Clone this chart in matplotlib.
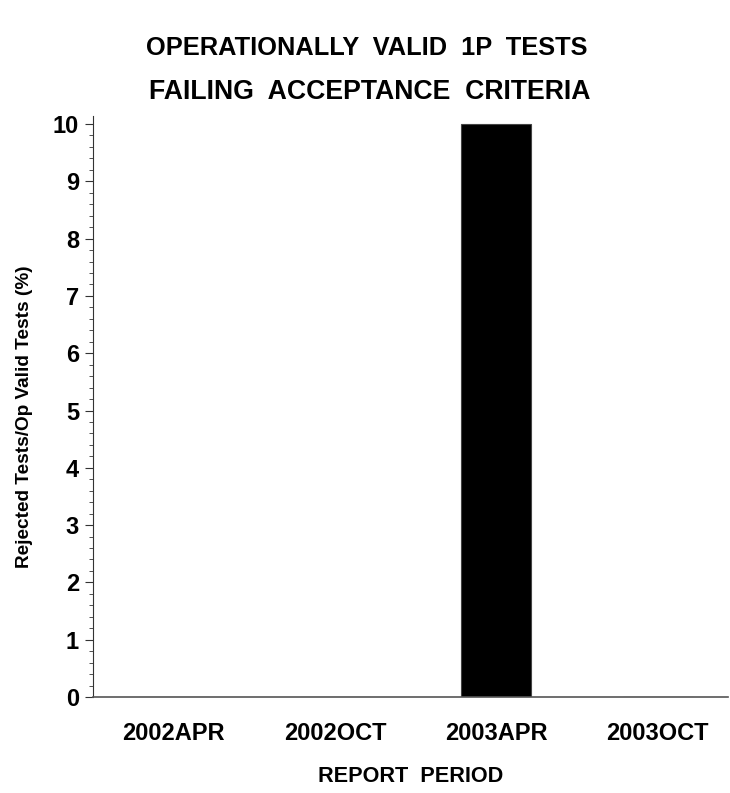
import numpy as np
import matplotlib.pyplot as plt
from matplotlib.ticker import MultipleLocator

periods = ['2002APR', '2002OCT', '2003APR', '2003OCT']
rejected_pct = [0, 0, 10, 0]

plt.rcParams['font.family'] = ['Liberation Sans', 'DejaVu Sans']
plt.rcParams['font.weight'] = 'bold'

fig = plt.figure(figsize=(7.3, 7.93), dpi=100)
ax = fig.add_axes([93 / 730, 1 - 697 / 793, 635 / 730, 581 / 793])

x = np.arange(len(periods))
ax.bar(x, rejected_pct, width=0.434, color='black', edgecolor='#444444', linewidth=0.8)

ax.set_xlim(-0.5, 3.437)
ax.set_ylim(0, 10.14)
ax.set_xticks(x)
ax.set_xticklabels(periods)
ax.yaxis.set_major_locator(MultipleLocator(1))
ax.yaxis.set_minor_locator(MultipleLocator(0.2))
ax.set_yticks(range(0, 11))

for side in ['top', 'right']:
    ax.spines[side].set_visible(False)
ax.spines['left'].set_color('#333333')
ax.spines['bottom'].set_color('#555555')
ax.spines['bottom'].set_linewidth(1.2)

ax.tick_params(axis='x', length=0, labelsize=17, pad=18)
ax.tick_params(axis='y', which='major', length=6, labelsize=17, pad=4, color='#333333')
ax.tick_params(axis='y', which='minor', length=3, color='#333333')

ax.set_ylabel('Rejected Tests/Op Valid Tests (%)', fontsize=13.7, fontweight='bold', labelpad=14)
ax.yaxis.label.set_y(0.482)
ax.set_xlabel('REPORT  PERIOD', fontsize=15.6, fontweight='bold', labelpad=15)

fig.text(0.503, 1 - 48 / 793, 'OPERATIONALLY  VALID  1P  TESTS', ha='center', va='center',
         fontsize=18.3, fontweight='bold')
fig.text(0.507, 1 - 92 / 793, 'FAILING  ACCEPTANCE  CRITERIA', ha='center', va='center',
         fontsize=19.2, fontweight='bold')

fig.savefig('out.png', dpi=100)
